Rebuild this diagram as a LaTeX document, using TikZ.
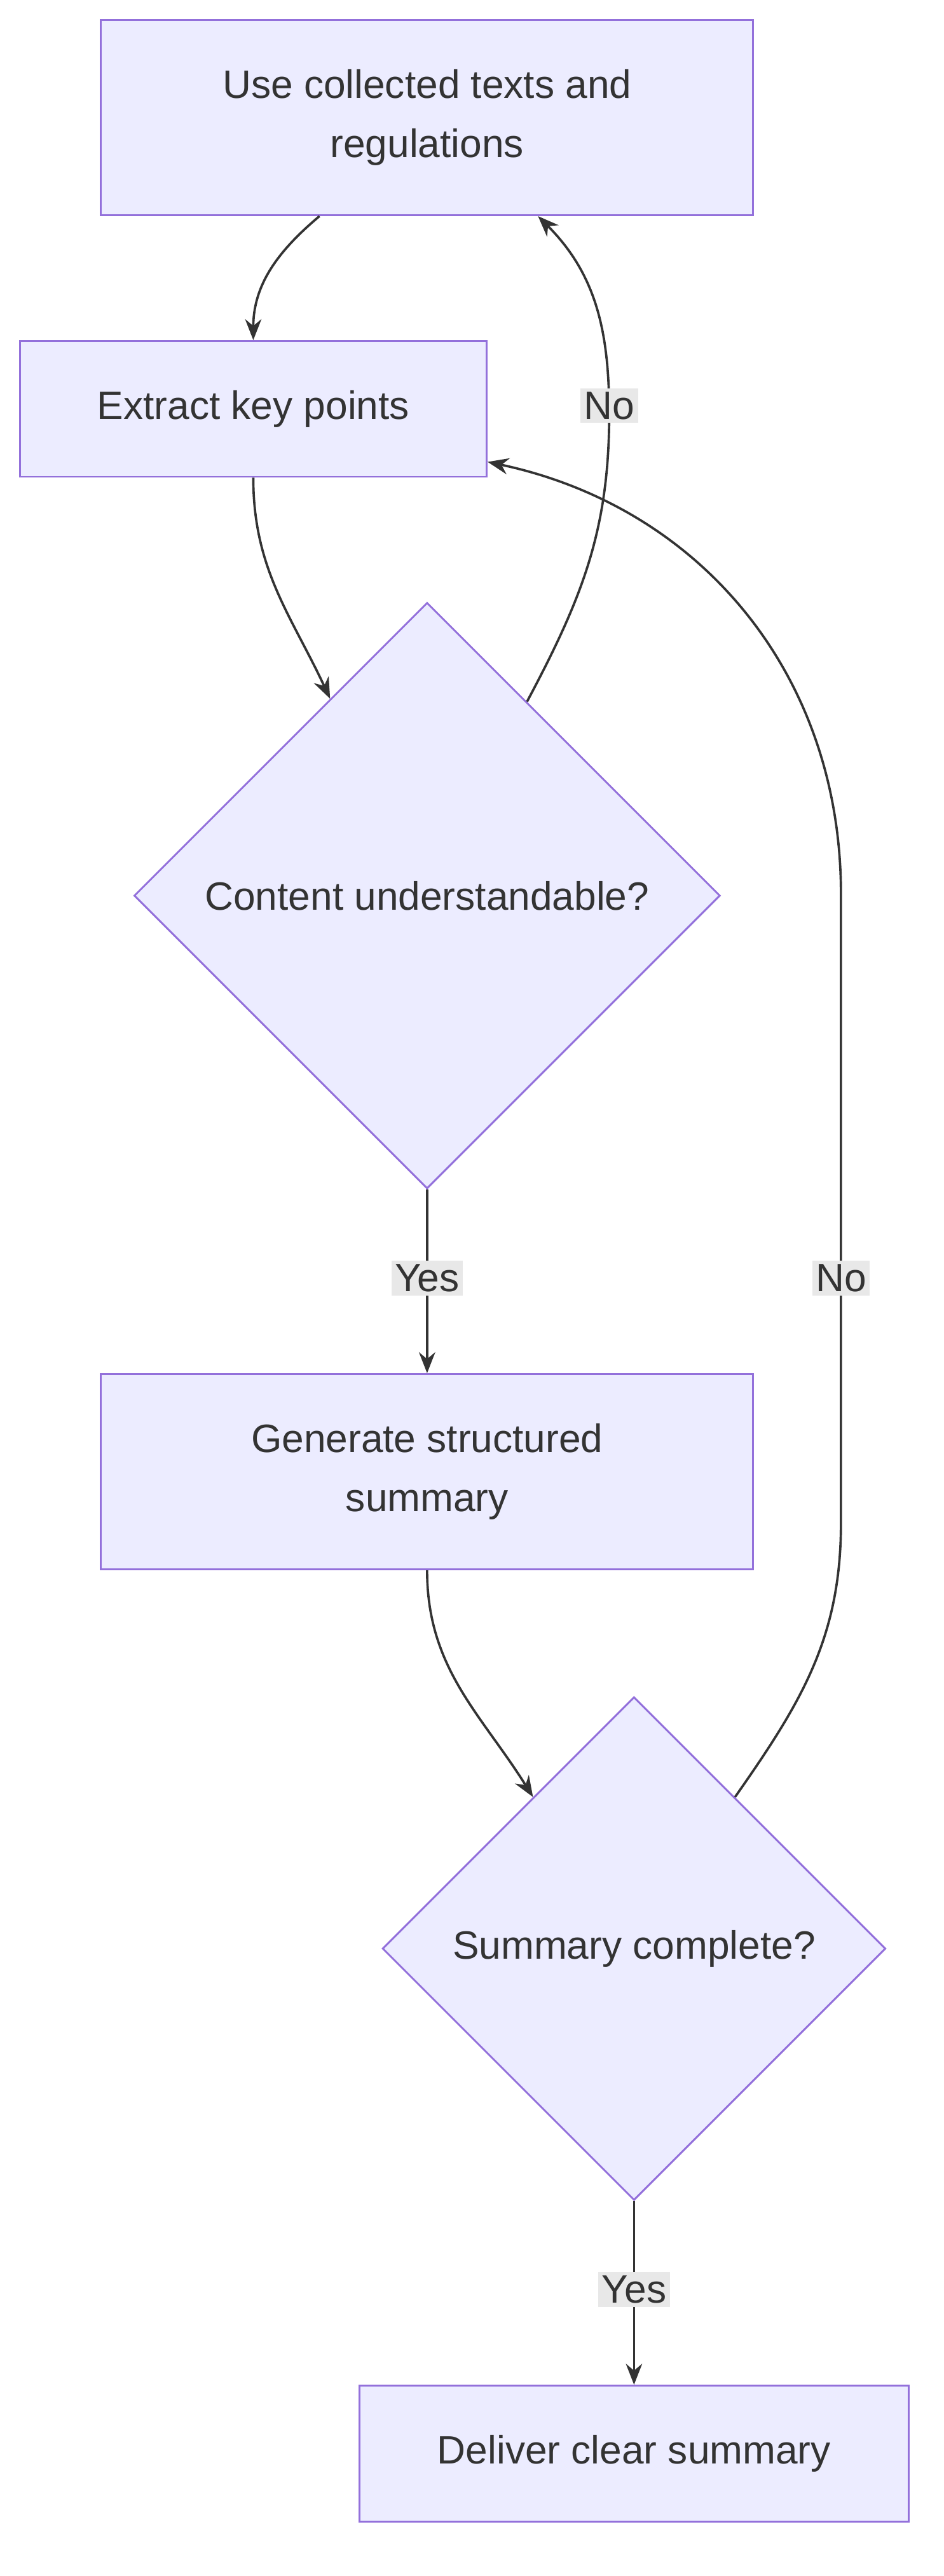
\documentclass[tikz,border=0pt]{standalone}
\usepackage{fontspec}
\setmainfont{Liberation Sans}
\usetikzlibrary{arrows.meta}
\usetikzlibrary{shapes.geometric,positioning,calc}

\definecolor{boxfill}{HTML}{ECECFF}
\definecolor{boxline}{HTML}{9370DB}
\definecolor{ink}{HTML}{333333}
\definecolor{lblbg}{HTML}{E8E8E8}

\tikzset{
    task/.style={draw=boxline, fill=boxfill, line width=1.6pt, text=ink,
        font=\fontsize{34}{51}\selectfont, align=center, inner sep=0pt},
    check/.style={task, diamond, aspect=1},
    flow/.style={draw=ink, line width=2pt, -{Stealth[length=18pt,width=14pt]}},
    tag/.style={fill=lblbg, text=ink, font=\fontsize{34}{40}\selectfont, inner sep=3pt}
}

\begin{document}
\begin{tikzpicture}[x=0.05cm, y=-0.05cm]
    \useasboundingbox (0,0) rectangle (570,1556);
    % boxes
    \node[task, minimum width=394*0.05cm, minimum height=118*0.05cm] (collect) at (258,71) {Use collected texts and\\regulations};
    \node[task, minimum width=282*0.05cm, minimum height=82*0.05cm] (extract) at (153,247) {Extract key points};
    \node[check, minimum width=354*0.05cm, minimum height=354*0.05cm] (clear) at (258,541) {Content understandable?};
    \node[task, minimum width=394*0.05cm, minimum height=118*0.05cm] (generate) at (258,889) {Generate structured\\summary};
    \node[check, minimum width=304*0.05cm, minimum height=304*0.05cm] (complete) at (383,1177) {Summary complete?};
    \node[task, minimum width=332*0.05cm, minimum height=82*0.05cm] (deliver) at (383,1482) {Deliver clear summary};
    % connectors
    \draw[flow] ($(collect.south)+(-65,0)$) to[out=-140,in=90] (extract.north);
    \draw[flow] (extract.south) to[out=-90,in=115] ($(clear.north)!0.33!(clear.west)$);
    \draw[flow] ($(clear.north)!0.34!(clear.east)$) to[out=62,in=-90] (368,250)
        to[out=90,in=-45] ($(collect.south)+(67,0)$);
    \node[tag] (noA) at (368,245) {No};
    \draw[flow] (clear.south) -- (generate.north);
    \node[tag] (yesA) at (258,772) {Yes};
    \draw[flow] (generate.south) to[out=-90,in=122] ($(complete.north)!0.4!(complete.west)$);
    \draw[flow] ($(complete.north)!0.4!(complete.east)$) to[out=55,in=-90] (508,920)
        -- (508,540) to[out=90,in=-12] ($(extract.east)+(0,32)$);
    \node[tag] (noB) at (508,772) {No};
    \draw[flow] (complete.south) -- (deliver.north);
    \node[tag] (yesB) at (383,1383) {Yes};
\end{tikzpicture}
\end{document}
